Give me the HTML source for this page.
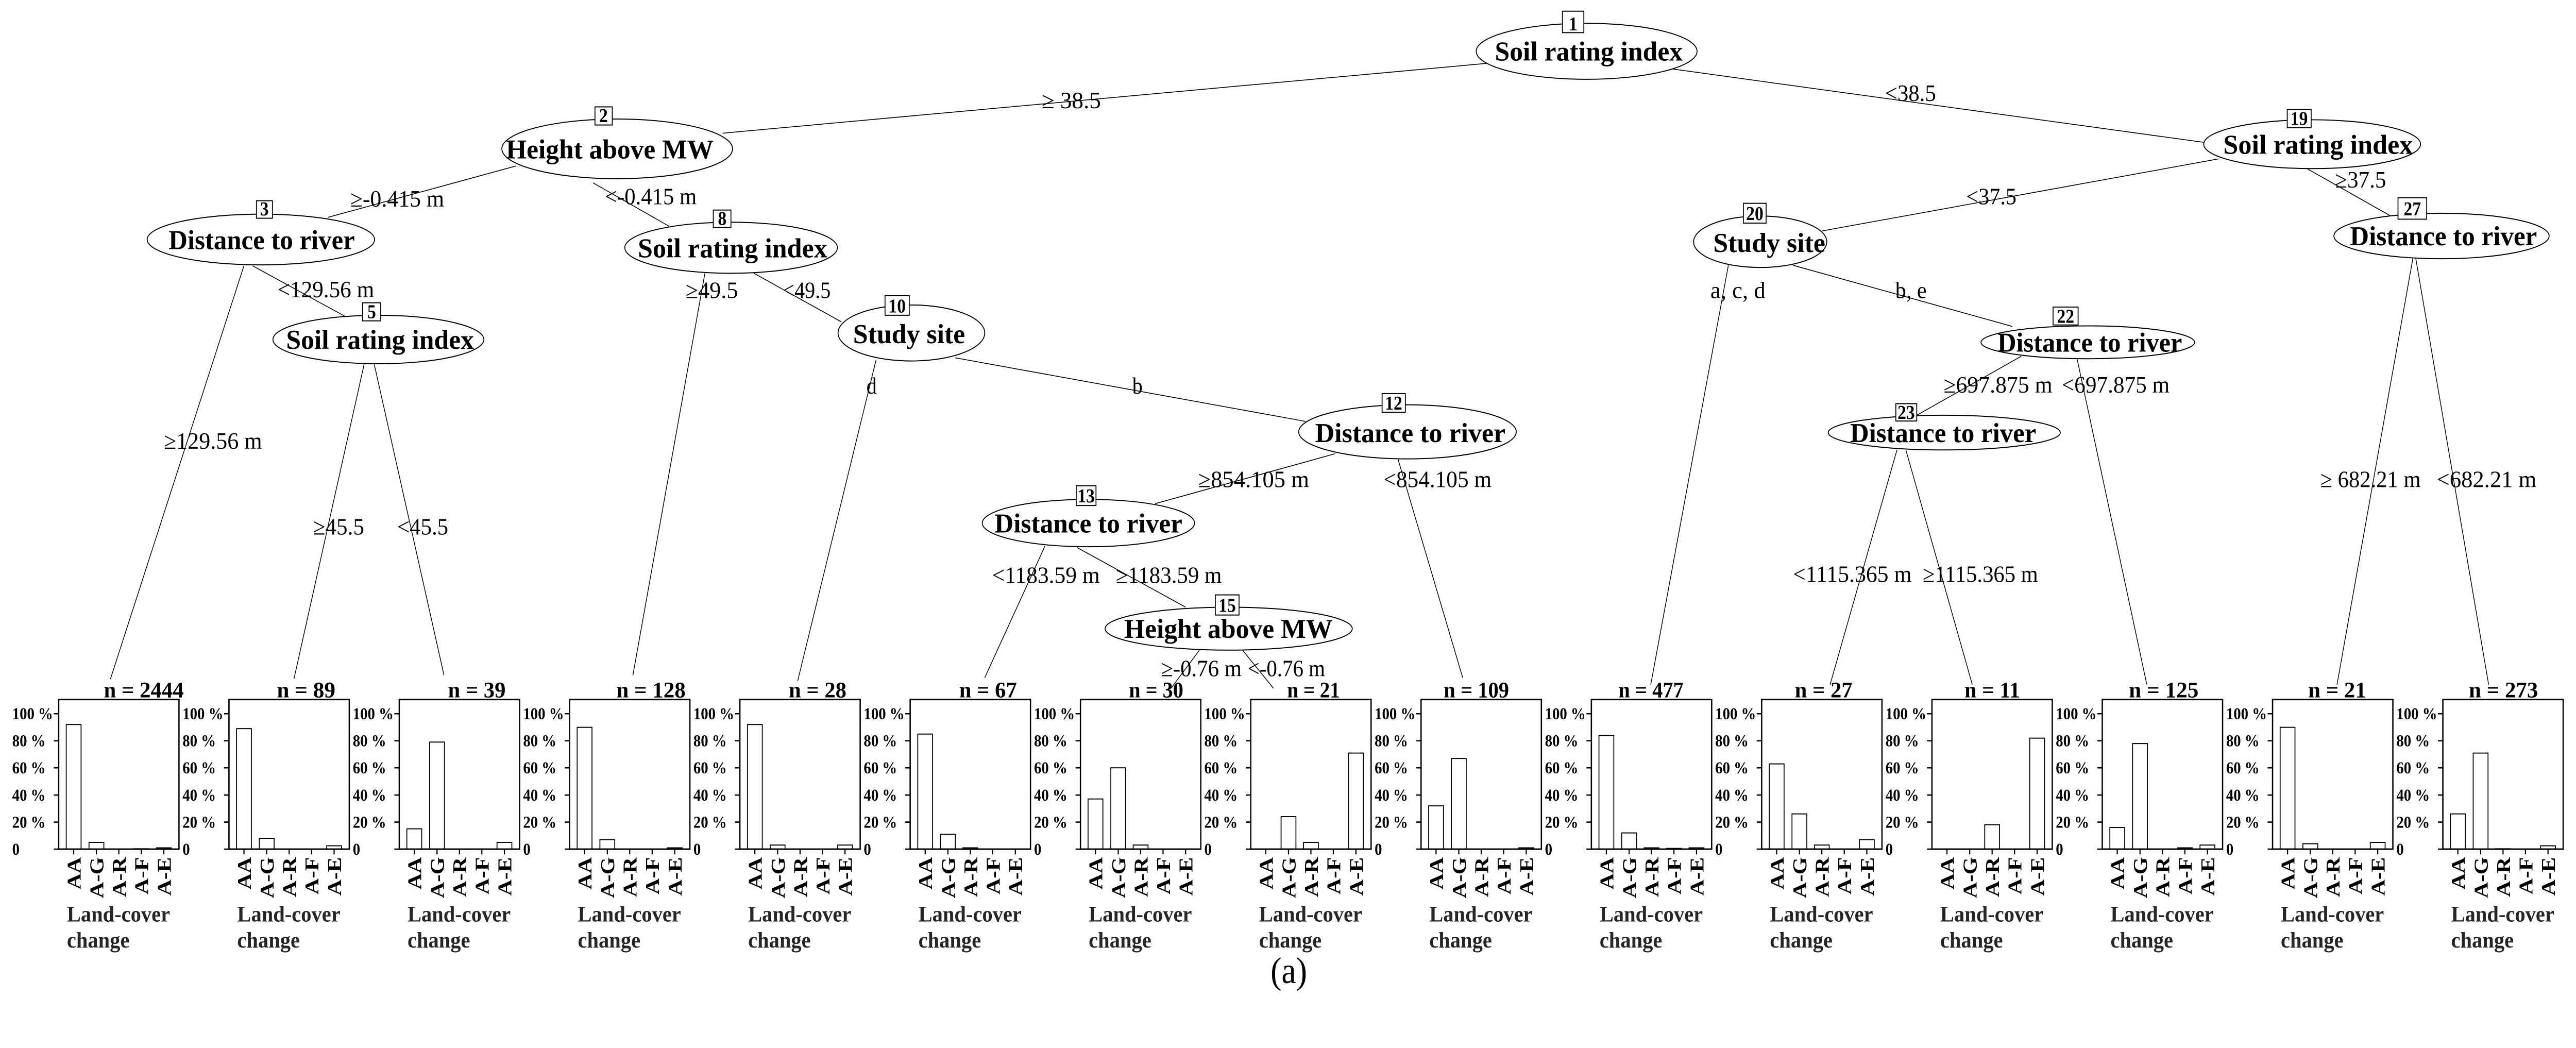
<!DOCTYPE html>
<html><head><meta charset="utf-8"><style>
html,body{margin:0;padding:0;background:#fff;width:100%;height:100%;overflow:hidden}
svg{display:block;width:100vw;height:100vh}
.n{font-family:"Liberation Serif",serif;font-weight:bold;font-size:14.5px}
.b{font-family:"Liberation Serif",serif;font-weight:bold;font-size:10.5px}
.e{font-family:"Liberation Serif",serif;font-size:12.5px}
.k{font-family:"Liberation Serif",serif;font-weight:bold;font-size:9px}
.c{font-family:"Liberation Serif",serif;font-weight:bold;font-size:12px}
.l{font-family:"Liberation Serif",serif;font-weight:bold;font-size:12px;fill:#262626}
.m{font-family:"Liberation Serif",serif;font-weight:bold;font-size:12px}
.a{font-family:"Liberation Serif",serif;font-size:20px}
.f{stroke:#000;fill:none}
.bar{stroke:#000;stroke-width:0.55;fill:#fff}
</style></head><body>
<svg xmlns="http://www.w3.org/2000/svg" viewBox="0 0 1563 561.8" preserveAspectRatio="none">
<rect width="1563" height="562" fill="#fff"/>
<g stroke="#000" stroke-width="0.45" fill="none">
<line x1="901.8" y1="34" x2="438.5" y2="71.4"/>
<line x1="1014.9" y1="37" x2="1337" y2="76.3"/>
<line x1="313" y1="89" x2="199" y2="116.5"/>
<line x1="359.8" y1="98" x2="406" y2="121.3"/>
<line x1="148" y1="142.5" x2="67" y2="364"/>
<line x1="153.3" y1="142.5" x2="209.2" y2="169.5"/>
<line x1="221" y1="195" x2="178.4" y2="363.8"/>
<line x1="227" y1="195" x2="269.4" y2="362"/>
<line x1="427.7" y1="146.5" x2="384" y2="362"/>
<line x1="457.5" y1="146.5" x2="510.4" y2="172.5"/>
<line x1="531.6" y1="192.8" x2="484" y2="365"/>
<line x1="579.6" y1="191.8" x2="792.2" y2="225.9"/>
<line x1="810.2" y1="243.2" x2="700.9" y2="270"/>
<line x1="848.2" y1="246" x2="887.5" y2="363.3"/>
<line x1="634" y1="292.8" x2="597.5" y2="363.3"/>
<line x1="653.5" y1="293.5" x2="719.4" y2="325.5"/>
<line x1="727.8" y1="348.5" x2="710.5" y2="369"/>
<line x1="753.9" y1="348.5" x2="772.7" y2="369"/>
<line x1="1346" y1="85.2" x2="1105.6" y2="123.8"/>
<line x1="1399.8" y1="90.4" x2="1450.6" y2="115.8"/>
<line x1="1048.7" y1="142.2" x2="1001.6" y2="367"/>
<line x1="1087.9" y1="142.2" x2="1221" y2="175"/>
<line x1="1226.4" y1="191" x2="1163" y2="222.6"/>
<line x1="1260.2" y1="192" x2="1302.6" y2="367"/>
<line x1="1151" y1="241.2" x2="1110.4" y2="367"/>
<line x1="1156.4" y1="241.2" x2="1196.7" y2="367"/>
<line x1="1464" y1="138.6" x2="1418" y2="367"/>
<line x1="1465.8" y1="138.6" x2="1510" y2="367"/>
</g>
<g stroke="#000" stroke-width="0.55" fill="#fff">
<ellipse cx="962.7" cy="27.5" rx="67" ry="15"/>
<ellipse cx="374.5" cy="79.8" rx="70" ry="16"/>
<ellipse cx="158.3" cy="128.4" rx="69" ry="13.6"/>
<ellipse cx="229.6" cy="182" rx="64" ry="13"/>
<ellipse cx="443.6" cy="132.8" rx="64.5" ry="13.7"/>
<ellipse cx="553" cy="178.5" rx="44.5" ry="15"/>
<ellipse cx="854" cy="231.5" rx="66" ry="14.5"/>
<ellipse cx="660.4" cy="280.4" rx="64.4" ry="12.7"/>
<ellipse cx="745.5" cy="337" rx="75" ry="11.5"/>
<ellipse cx="1402.9" cy="77.3" rx="65.8" ry="13.1"/>
<ellipse cx="1068" cy="129.6" rx="40.4" ry="13.8"/>
<ellipse cx="1266.8" cy="183.5" rx="64.8" ry="8.8"/>
<ellipse cx="1179.7" cy="231.9" rx="70.4" ry="9.3"/>
<ellipse cx="1481.4" cy="126.5" rx="65.3" ry="12.2"/>
<rect x="948" y="6" width="13" height="11.5"/>
<rect x="361" y="57.3" width="10.5" height="9.7"/>
<rect x="155.6" y="107.6" width="9.7" height="9.4"/>
<rect x="220" y="162.3" width="11" height="9.7"/>
<rect x="432.8" y="112.6" width="10.7" height="9.4"/>
<rect x="537" y="158.5" width="14.7" height="10.5"/>
<rect x="838.6" y="211" width="14.1" height="10"/>
<rect x="653" y="260.4" width="12" height="10.6"/>
<rect x="737.4" y="318.9" width="14.4" height="10.8"/>
<rect x="1387.8" y="58.7" width="14.5" height="9.8"/>
<rect x="1057.8" y="109" width="13.8" height="10.6"/>
<rect x="1245.7" y="164.6" width="15.2" height="9.6"/>
<rect x="1150.3" y="216.4" width="12.7" height="9.3"/>
<rect x="1455" y="106" width="17.4" height="11.5"/>
</g>
<g class="b" text-anchor="middle">
<text x="954.5" y="16.3">1</text><text x="366.2" y="65.5">2</text><text x="160.4" y="115.5">3</text>
<text x="225.5" y="170.5">5</text><text x="438.2" y="120.5">8</text><text x="544.3" y="167.5">10</text>
<text x="845.6" y="219.6">12</text><text x="659" y="269.3">13</text><text x="744.6" y="328">15</text>
<text x="1395" y="67">19</text><text x="1064.7" y="118">20</text><text x="1253.3" y="173">22</text>
<text x="1156.6" y="224.5">23</text><text x="1463.7" y="115.5">27</text>
</g>
<g class="n" text-anchor="middle">
<text x="964" y="32.5" textLength="114" lengthAdjust="spacingAndGlyphs">Soil rating index</text>
<text x="370" y="85" textLength="126" lengthAdjust="spacingAndGlyphs">Height above MW</text>
<text x="158.8" y="133.5" textLength="113" lengthAdjust="spacingAndGlyphs">Distance to river</text>
<text x="230.6" y="187" textLength="114" lengthAdjust="spacingAndGlyphs">Soil rating index</text>
<text x="444.5" y="138" textLength="115" lengthAdjust="spacingAndGlyphs">Soil rating index</text>
<text x="551.6" y="184" textLength="68" lengthAdjust="spacingAndGlyphs">Study site</text>
<text x="855.7" y="237" textLength="115.5" lengthAdjust="spacingAndGlyphs">Distance to river</text>
<text x="660.4" y="285.5" textLength="114" lengthAdjust="spacingAndGlyphs">Distance to river</text>
<text x="745.3" y="342" textLength="126.5" lengthAdjust="spacingAndGlyphs">Height above MW</text>
<text x="1406.5" y="82.5" textLength="115" lengthAdjust="spacingAndGlyphs">Soil rating index</text>
<text x="1073.5" y="135" textLength="68" lengthAdjust="spacingAndGlyphs">Study site</text>
<text x="1268" y="188.5" textLength="112" lengthAdjust="spacingAndGlyphs">Distance to river</text>
<text x="1179" y="237" textLength="113" lengthAdjust="spacingAndGlyphs">Distance to river</text>
<text x="1482.6" y="131.5" textLength="113.5" lengthAdjust="spacingAndGlyphs">Distance to river</text>
</g>
<g class="e">
<text x="632" y="58" textLength="36" lengthAdjust="spacingAndGlyphs">≥ 38.5</text>
<text x="1143.7" y="54.1" textLength="31" lengthAdjust="spacingAndGlyphs">&lt;38.5</text>
<text x="212.5" y="110.7" textLength="57" lengthAdjust="spacingAndGlyphs">≥-0.415 m</text>
<text x="367" y="109.5" textLength="55.7" lengthAdjust="spacingAndGlyphs">&lt;-0.415 m</text>
<text x="99.4" y="240.6" textLength="59.6" lengthAdjust="spacingAndGlyphs">≥129.56 m</text>
<text x="168.4" y="159.4" textLength="58.6" lengthAdjust="spacingAndGlyphs">&lt;129.56 m</text>
<text x="190" y="286.6" textLength="31" lengthAdjust="spacingAndGlyphs">≥45.5</text>
<text x="241" y="286.6" textLength="31" lengthAdjust="spacingAndGlyphs">&lt;45.5</text>
<text x="416" y="159.8" textLength="31.8" lengthAdjust="spacingAndGlyphs">≥49.5</text>
<text x="475" y="159.8" textLength="29" lengthAdjust="spacingAndGlyphs">&lt;49.5</text>
<text x="525.7" y="211">d</text>
<text x="687" y="211">b</text>
<text x="727" y="261.1" textLength="67.3" lengthAdjust="spacingAndGlyphs">≥854.105 m</text>
<text x="839.5" y="261.1" textLength="65.5" lengthAdjust="spacingAndGlyphs">&lt;854.105 m</text>
<text x="602" y="312.5" textLength="65.3" lengthAdjust="spacingAndGlyphs">&lt;1183.59 m</text>
<text x="677" y="312.5" textLength="64.3" lengthAdjust="spacingAndGlyphs">≥1183.59 m</text>
<text x="704.4" y="362.5" textLength="49" lengthAdjust="spacingAndGlyphs">≥-0.76 m</text>
<text x="757" y="362.5" textLength="47" lengthAdjust="spacingAndGlyphs">&lt;-0.76 m</text>
<text x="1193" y="109.5" textLength="30.5" lengthAdjust="spacingAndGlyphs">&lt;37.5</text>
<text x="1416.8" y="100.6" textLength="31" lengthAdjust="spacingAndGlyphs">≥37.5</text>
<text x="1037.8" y="159.8" textLength="33.4" lengthAdjust="spacingAndGlyphs">a, c, d</text>
<text x="1150" y="159.8" textLength="19" lengthAdjust="spacingAndGlyphs">b, e</text>
<text x="1179.3" y="210.5" textLength="66" lengthAdjust="spacingAndGlyphs">≥697.875 m</text>
<text x="1251" y="210.5" textLength="65.4" lengthAdjust="spacingAndGlyphs">&lt;697.875 m</text>
<text x="1087.9" y="312" textLength="72" lengthAdjust="spacingAndGlyphs">&lt;1115.365 m</text>
<text x="1166.6" y="312" textLength="70" lengthAdjust="spacingAndGlyphs">≥1115.365 m</text>
<text x="1407.8" y="261.2" textLength="61" lengthAdjust="spacingAndGlyphs">≥ 682.21 m</text>
<text x="1478.5" y="261.2" textLength="60.5" lengthAdjust="spacingAndGlyphs">&lt;682.21 m</text>
</g>
<g class="m">
<text x="63" y="373.8" textLength="48.5" lengthAdjust="spacingAndGlyphs">n = 2444</text>
<text x="168" y="373.8" textLength="35.5" lengthAdjust="spacingAndGlyphs">n = 89</text>
<text x="271.8" y="373.8" textLength="35" lengthAdjust="spacingAndGlyphs">n = 39</text>
<text x="374" y="373.8" textLength="42" lengthAdjust="spacingAndGlyphs">n = 128</text>
<text x="478.6" y="373.8" textLength="35" lengthAdjust="spacingAndGlyphs">n = 28</text>
<text x="582" y="373.8" textLength="35" lengthAdjust="spacingAndGlyphs">n = 67</text>
<text x="685" y="373.8" textLength="33" lengthAdjust="spacingAndGlyphs">n = 30</text>
<text x="781" y="373.8" textLength="32" lengthAdjust="spacingAndGlyphs">n = 21</text>
<text x="876" y="373.8" textLength="39.6" lengthAdjust="spacingAndGlyphs">n = 109</text>
<text x="982" y="373.8" textLength="39.5" lengthAdjust="spacingAndGlyphs">n = 477</text>
<text x="1089" y="373.8" textLength="35" lengthAdjust="spacingAndGlyphs">n = 27</text>
<text x="1192" y="373.8" textLength="33.7" lengthAdjust="spacingAndGlyphs">n = 11</text>
<text x="1291.7" y="373.8" textLength="42.3" lengthAdjust="spacingAndGlyphs">n = 125</text>
<text x="1400.5" y="373.8" textLength="35.2" lengthAdjust="spacingAndGlyphs">n = 21</text>
<text x="1498" y="373.8" textLength="42" lengthAdjust="spacingAndGlyphs">n = 273</text>
</g>
<text class="a" x="782" y="527" text-anchor="middle">(a)</text>

<!-- panel 1 -->
<g transform="translate(35.6,0)">
<rect class="bar" x="4.6" y="388.4" width="9" height="66.8"/><rect class="bar" x="18.4" y="451.6" width="9" height="3.6"/><rect class="bar" x="45.6" y="455" width="9" height="0.2"/><rect class="bar" x="59.3" y="454.5" width="9" height="0.7"/>
<rect class="f" x="0" y="375" width="73" height="80.2" stroke-width="0.8"/><path class="f" stroke-width="0.7" d="M-3 455.2H73M-3 382.6H0M-3 397.1H0M-3 411.6H0M-3 426.2H0M-3 440.7H0M9.1 455.2V458M22.9 455.2V458M36.5 455.2V458M50.1 455.2V458M63.8 455.2V458"/>
<g class="k"><text x="-28.2" y="385.6">100 %</text><text x="-28.2" y="400.1">80 %</text><text x="-28.2" y="414.6">60 %</text><text x="-28.2" y="429.2">40 %</text><text x="-28.2" y="443.7">20 %</text><text x="-28.2" y="458.2">0</text></g>
<g class="c" text-anchor="end"><text transform="translate(13.3,459.5) rotate(-90)">AA</text><text transform="translate(27.1,459.5) rotate(-90)">A-G</text><text transform="translate(40.7,459.5) rotate(-90)">A-R</text><text transform="translate(54.3,459.5) rotate(-90)">A-F</text><text transform="translate(68,459.5) rotate(-90)">A-E</text></g>
<text class="l" x="5" y="494" textLength="62.6" lengthAdjust="spacingAndGlyphs">Land-cover</text><text class="l" x="5" y="508" textLength="38" lengthAdjust="spacingAndGlyphs">change</text>
</g>
<!-- panel 2 -->
<g transform="translate(138.93,0)">
<rect class="bar" x="4.6" y="390.6" width="9" height="64.6"/><rect class="bar" x="18.4" y="449.4" width="9" height="5.8"/><rect class="bar" x="59.3" y="453.4" width="9" height="1.8"/>
<rect class="f" x="0" y="375" width="73" height="80.2" stroke-width="0.8"/><path class="f" stroke-width="0.7" d="M-3 455.2H73M-3 382.6H0M-3 397.1H0M-3 411.6H0M-3 426.2H0M-3 440.7H0M9.1 455.2V458M22.9 455.2V458M36.5 455.2V458M50.1 455.2V458M63.8 455.2V458"/>
<g class="k"><text x="-28.2" y="385.6">100 %</text><text x="-28.2" y="400.1">80 %</text><text x="-28.2" y="414.6">60 %</text><text x="-28.2" y="429.2">40 %</text><text x="-28.2" y="443.7">20 %</text><text x="-28.2" y="458.2">0</text></g>
<g class="c" text-anchor="end"><text transform="translate(13.3,459.5) rotate(-90)">AA</text><text transform="translate(27.1,459.5) rotate(-90)">A-G</text><text transform="translate(40.7,459.5) rotate(-90)">A-R</text><text transform="translate(54.3,459.5) rotate(-90)">A-F</text><text transform="translate(68,459.5) rotate(-90)">A-E</text></g>
<text class="l" x="5" y="494" textLength="62.6" lengthAdjust="spacingAndGlyphs">Land-cover</text><text class="l" x="5" y="508" textLength="38" lengthAdjust="spacingAndGlyphs">change</text>
</g>
<!-- panel 3 -->
<g transform="translate(242.26,0)">
<rect class="bar" x="4.6" y="444.3" width="9" height="10.9"/><rect class="bar" x="18.4" y="397.8" width="9" height="57.4"/><rect class="bar" x="59.3" y="451.6" width="9" height="3.6"/>
<rect class="f" x="0" y="375" width="73" height="80.2" stroke-width="0.8"/><path class="f" stroke-width="0.7" d="M-3 455.2H73M-3 382.6H0M-3 397.1H0M-3 411.6H0M-3 426.2H0M-3 440.7H0M9.1 455.2V458M22.9 455.2V458M36.5 455.2V458M50.1 455.2V458M63.8 455.2V458"/>
<g class="k"><text x="-28.2" y="385.6">100 %</text><text x="-28.2" y="400.1">80 %</text><text x="-28.2" y="414.6">60 %</text><text x="-28.2" y="429.2">40 %</text><text x="-28.2" y="443.7">20 %</text><text x="-28.2" y="458.2">0</text></g>
<g class="c" text-anchor="end"><text transform="translate(13.3,459.5) rotate(-90)">AA</text><text transform="translate(27.1,459.5) rotate(-90)">A-G</text><text transform="translate(40.7,459.5) rotate(-90)">A-R</text><text transform="translate(54.3,459.5) rotate(-90)">A-F</text><text transform="translate(68,459.5) rotate(-90)">A-E</text></g>
<text class="l" x="5" y="494" textLength="62.6" lengthAdjust="spacingAndGlyphs">Land-cover</text><text class="l" x="5" y="508" textLength="38" lengthAdjust="spacingAndGlyphs">change</text>
</g>
<!-- panel 4 -->
<g transform="translate(345.59,0)">
<rect class="bar" x="4.6" y="389.9" width="9" height="65.3"/><rect class="bar" x="18.4" y="450.1" width="9" height="5.1"/><rect class="bar" x="59.3" y="454.5" width="9" height="0.7"/>
<rect class="f" x="0" y="375" width="73" height="80.2" stroke-width="0.8"/><path class="f" stroke-width="0.7" d="M-3 455.2H73M-3 382.6H0M-3 397.1H0M-3 411.6H0M-3 426.2H0M-3 440.7H0M9.1 455.2V458M22.9 455.2V458M36.5 455.2V458M50.1 455.2V458M63.8 455.2V458"/>
<g class="k"><text x="-28.2" y="385.6">100 %</text><text x="-28.2" y="400.1">80 %</text><text x="-28.2" y="414.6">60 %</text><text x="-28.2" y="429.2">40 %</text><text x="-28.2" y="443.7">20 %</text><text x="-28.2" y="458.2">0</text></g>
<g class="c" text-anchor="end"><text transform="translate(13.3,459.5) rotate(-90)">AA</text><text transform="translate(27.1,459.5) rotate(-90)">A-G</text><text transform="translate(40.7,459.5) rotate(-90)">A-R</text><text transform="translate(54.3,459.5) rotate(-90)">A-F</text><text transform="translate(68,459.5) rotate(-90)">A-E</text></g>
<text class="l" x="5" y="494" textLength="62.6" lengthAdjust="spacingAndGlyphs">Land-cover</text><text class="l" x="5" y="508" textLength="38" lengthAdjust="spacingAndGlyphs">change</text>
</g>
<!-- panel 5 -->
<g transform="translate(448.92,0)">
<rect class="bar" x="4.6" y="388.4" width="9" height="66.8"/><rect class="bar" x="18.4" y="453" width="9" height="2.2"/><rect class="bar" x="59.3" y="453" width="9" height="2.2"/>
<rect class="f" x="0" y="375" width="73" height="80.2" stroke-width="0.8"/><path class="f" stroke-width="0.7" d="M-3 455.2H73M-3 382.6H0M-3 397.1H0M-3 411.6H0M-3 426.2H0M-3 440.7H0M9.1 455.2V458M22.9 455.2V458M36.5 455.2V458M50.1 455.2V458M63.8 455.2V458"/>
<g class="k"><text x="-28.2" y="385.6">100 %</text><text x="-28.2" y="400.1">80 %</text><text x="-28.2" y="414.6">60 %</text><text x="-28.2" y="429.2">40 %</text><text x="-28.2" y="443.7">20 %</text><text x="-28.2" y="458.2">0</text></g>
<g class="c" text-anchor="end"><text transform="translate(13.3,459.5) rotate(-90)">AA</text><text transform="translate(27.1,459.5) rotate(-90)">A-G</text><text transform="translate(40.7,459.5) rotate(-90)">A-R</text><text transform="translate(54.3,459.5) rotate(-90)">A-F</text><text transform="translate(68,459.5) rotate(-90)">A-E</text></g>
<text class="l" x="5" y="494" textLength="62.6" lengthAdjust="spacingAndGlyphs">Land-cover</text><text class="l" x="5" y="508" textLength="38" lengthAdjust="spacingAndGlyphs">change</text>
</g>
<!-- panel 6 -->
<g transform="translate(552.25,0)">
<rect class="bar" x="4.6" y="393.5" width="9" height="61.7"/><rect class="bar" x="18.4" y="447.2" width="9" height="8"/><rect class="bar" x="32" y="454.5" width="9" height="0.7"/>
<rect class="f" x="0" y="375" width="73" height="80.2" stroke-width="0.8"/><path class="f" stroke-width="0.7" d="M-3 455.2H73M-3 382.6H0M-3 397.1H0M-3 411.6H0M-3 426.2H0M-3 440.7H0M9.1 455.2V458M22.9 455.2V458M36.5 455.2V458M50.1 455.2V458M63.8 455.2V458"/>
<g class="k"><text x="-28.2" y="385.6">100 %</text><text x="-28.2" y="400.1">80 %</text><text x="-28.2" y="414.6">60 %</text><text x="-28.2" y="429.2">40 %</text><text x="-28.2" y="443.7">20 %</text><text x="-28.2" y="458.2">0</text></g>
<g class="c" text-anchor="end"><text transform="translate(13.3,459.5) rotate(-90)">AA</text><text transform="translate(27.1,459.5) rotate(-90)">A-G</text><text transform="translate(40.7,459.5) rotate(-90)">A-R</text><text transform="translate(54.3,459.5) rotate(-90)">A-F</text><text transform="translate(68,459.5) rotate(-90)">A-E</text></g>
<text class="l" x="5" y="494" textLength="62.6" lengthAdjust="spacingAndGlyphs">Land-cover</text><text class="l" x="5" y="508" textLength="38" lengthAdjust="spacingAndGlyphs">change</text>
</g>
<!-- panel 7 -->
<g transform="translate(655.58,0)">
<rect class="bar" x="4.6" y="428.3" width="9" height="26.9"/><rect class="bar" x="18.4" y="411.6" width="9" height="43.6"/><rect class="bar" x="32" y="453" width="9" height="2.2"/>
<rect class="f" x="0" y="375" width="73" height="80.2" stroke-width="0.8"/><path class="f" stroke-width="0.7" d="M-3 455.2H73M-3 382.6H0M-3 397.1H0M-3 411.6H0M-3 426.2H0M-3 440.7H0M9.1 455.2V458M22.9 455.2V458M36.5 455.2V458M50.1 455.2V458M63.8 455.2V458"/>
<g class="k"><text x="-28.2" y="385.6">100 %</text><text x="-28.2" y="400.1">80 %</text><text x="-28.2" y="414.6">60 %</text><text x="-28.2" y="429.2">40 %</text><text x="-28.2" y="443.7">20 %</text><text x="-28.2" y="458.2">0</text></g>
<g class="c" text-anchor="end"><text transform="translate(13.3,459.5) rotate(-90)">AA</text><text transform="translate(27.1,459.5) rotate(-90)">A-G</text><text transform="translate(40.7,459.5) rotate(-90)">A-R</text><text transform="translate(54.3,459.5) rotate(-90)">A-F</text><text transform="translate(68,459.5) rotate(-90)">A-E</text></g>
<text class="l" x="5" y="494" textLength="62.6" lengthAdjust="spacingAndGlyphs">Land-cover</text><text class="l" x="5" y="508" textLength="38" lengthAdjust="spacingAndGlyphs">change</text>
</g>
<!-- panel 8 -->
<g transform="translate(758.91,0)">
<rect class="bar" x="18.4" y="437.8" width="9" height="17.4"/><rect class="bar" x="32" y="451.6" width="9" height="3.6"/><rect class="bar" x="59.3" y="403.7" width="9" height="51.5"/>
<rect class="f" x="0" y="375" width="73" height="80.2" stroke-width="0.8"/><path class="f" stroke-width="0.7" d="M-3 455.2H73M-3 382.6H0M-3 397.1H0M-3 411.6H0M-3 426.2H0M-3 440.7H0M9.1 455.2V458M22.9 455.2V458M36.5 455.2V458M50.1 455.2V458M63.8 455.2V458"/>
<g class="k"><text x="-28.2" y="385.6">100 %</text><text x="-28.2" y="400.1">80 %</text><text x="-28.2" y="414.6">60 %</text><text x="-28.2" y="429.2">40 %</text><text x="-28.2" y="443.7">20 %</text><text x="-28.2" y="458.2">0</text></g>
<g class="c" text-anchor="end"><text transform="translate(13.3,459.5) rotate(-90)">AA</text><text transform="translate(27.1,459.5) rotate(-90)">A-G</text><text transform="translate(40.7,459.5) rotate(-90)">A-R</text><text transform="translate(54.3,459.5) rotate(-90)">A-F</text><text transform="translate(68,459.5) rotate(-90)">A-E</text></g>
<text class="l" x="5" y="494" textLength="62.6" lengthAdjust="spacingAndGlyphs">Land-cover</text><text class="l" x="5" y="508" textLength="38" lengthAdjust="spacingAndGlyphs">change</text>
</g>
<!-- panel 9 -->
<g transform="translate(862.24,0)">
<rect class="bar" x="4.6" y="432" width="9" height="23.2"/><rect class="bar" x="18.4" y="406.6" width="9" height="48.6"/><rect class="bar" x="59.3" y="454.5" width="9" height="0.7"/>
<rect class="f" x="0" y="375" width="73" height="80.2" stroke-width="0.8"/><path class="f" stroke-width="0.7" d="M-3 455.2H73M-3 382.6H0M-3 397.1H0M-3 411.6H0M-3 426.2H0M-3 440.7H0M9.1 455.2V458M22.9 455.2V458M36.5 455.2V458M50.1 455.2V458M63.8 455.2V458"/>
<g class="k"><text x="-28.2" y="385.6">100 %</text><text x="-28.2" y="400.1">80 %</text><text x="-28.2" y="414.6">60 %</text><text x="-28.2" y="429.2">40 %</text><text x="-28.2" y="443.7">20 %</text><text x="-28.2" y="458.2">0</text></g>
<g class="c" text-anchor="end"><text transform="translate(13.3,459.5) rotate(-90)">AA</text><text transform="translate(27.1,459.5) rotate(-90)">A-G</text><text transform="translate(40.7,459.5) rotate(-90)">A-R</text><text transform="translate(54.3,459.5) rotate(-90)">A-F</text><text transform="translate(68,459.5) rotate(-90)">A-E</text></g>
<text class="l" x="5" y="494" textLength="62.6" lengthAdjust="spacingAndGlyphs">Land-cover</text><text class="l" x="5" y="508" textLength="38" lengthAdjust="spacingAndGlyphs">change</text>
</g>
<!-- panel 10 -->
<g transform="translate(965.57,0)">
<rect class="bar" x="4.6" y="394.2" width="9" height="61"/><rect class="bar" x="18.4" y="446.5" width="9" height="8.7"/><rect class="bar" x="32" y="454.5" width="9" height="0.7"/><rect class="bar" x="45.6" y="454.8" width="9" height="0.4"/><rect class="bar" x="59.3" y="454.5" width="9" height="0.7"/>
<rect class="f" x="0" y="375" width="73" height="80.2" stroke-width="0.8"/><path class="f" stroke-width="0.7" d="M-3 455.2H73M-3 382.6H0M-3 397.1H0M-3 411.6H0M-3 426.2H0M-3 440.7H0M9.1 455.2V458M22.9 455.2V458M36.5 455.2V458M50.1 455.2V458M63.8 455.2V458"/>
<g class="k"><text x="-28.2" y="385.6">100 %</text><text x="-28.2" y="400.1">80 %</text><text x="-28.2" y="414.6">60 %</text><text x="-28.2" y="429.2">40 %</text><text x="-28.2" y="443.7">20 %</text><text x="-28.2" y="458.2">0</text></g>
<g class="c" text-anchor="end"><text transform="translate(13.3,459.5) rotate(-90)">AA</text><text transform="translate(27.1,459.5) rotate(-90)">A-G</text><text transform="translate(40.7,459.5) rotate(-90)">A-R</text><text transform="translate(54.3,459.5) rotate(-90)">A-F</text><text transform="translate(68,459.5) rotate(-90)">A-E</text></g>
<text class="l" x="5" y="494" textLength="62.6" lengthAdjust="spacingAndGlyphs">Land-cover</text><text class="l" x="5" y="508" textLength="38" lengthAdjust="spacingAndGlyphs">change</text>
</g>
<!-- panel 11 -->
<g transform="translate(1068.9,0)">
<rect class="bar" x="4.6" y="409.5" width="9" height="45.7"/><rect class="bar" x="18.4" y="436.3" width="9" height="18.9"/><rect class="bar" x="32" y="453" width="9" height="2.2"/><rect class="bar" x="59.3" y="450.1" width="9" height="5.1"/>
<rect class="f" x="0" y="375" width="73" height="80.2" stroke-width="0.8"/><path class="f" stroke-width="0.7" d="M-3 455.2H73M-3 382.6H0M-3 397.1H0M-3 411.6H0M-3 426.2H0M-3 440.7H0M9.1 455.2V458M22.9 455.2V458M36.5 455.2V458M50.1 455.2V458M63.8 455.2V458"/>
<g class="k"><text x="-28.2" y="385.6">100 %</text><text x="-28.2" y="400.1">80 %</text><text x="-28.2" y="414.6">60 %</text><text x="-28.2" y="429.2">40 %</text><text x="-28.2" y="443.7">20 %</text><text x="-28.2" y="458.2">0</text></g>
<g class="c" text-anchor="end"><text transform="translate(13.3,459.5) rotate(-90)">AA</text><text transform="translate(27.1,459.5) rotate(-90)">A-G</text><text transform="translate(40.7,459.5) rotate(-90)">A-R</text><text transform="translate(54.3,459.5) rotate(-90)">A-F</text><text transform="translate(68,459.5) rotate(-90)">A-E</text></g>
<text class="l" x="5" y="494" textLength="62.6" lengthAdjust="spacingAndGlyphs">Land-cover</text><text class="l" x="5" y="508" textLength="38" lengthAdjust="spacingAndGlyphs">change</text>
</g>
<!-- panel 12 -->
<g transform="translate(1172.23,0)">
<rect class="bar" x="32" y="442.1" width="9" height="13.1"/><rect class="bar" x="59.3" y="395.7" width="9" height="59.5"/>
<rect class="f" x="0" y="375" width="73" height="80.2" stroke-width="0.8"/><path class="f" stroke-width="0.7" d="M-3 455.2H73M-3 382.6H0M-3 397.1H0M-3 411.6H0M-3 426.2H0M-3 440.7H0M9.1 455.2V458M22.9 455.2V458M36.5 455.2V458M50.1 455.2V458M63.8 455.2V458"/>
<g class="k"><text x="-28.2" y="385.6">100 %</text><text x="-28.2" y="400.1">80 %</text><text x="-28.2" y="414.6">60 %</text><text x="-28.2" y="429.2">40 %</text><text x="-28.2" y="443.7">20 %</text><text x="-28.2" y="458.2">0</text></g>
<g class="c" text-anchor="end"><text transform="translate(13.3,459.5) rotate(-90)">AA</text><text transform="translate(27.1,459.5) rotate(-90)">A-G</text><text transform="translate(40.7,459.5) rotate(-90)">A-R</text><text transform="translate(54.3,459.5) rotate(-90)">A-F</text><text transform="translate(68,459.5) rotate(-90)">A-E</text></g>
<text class="l" x="5" y="494" textLength="62.6" lengthAdjust="spacingAndGlyphs">Land-cover</text><text class="l" x="5" y="508" textLength="38" lengthAdjust="spacingAndGlyphs">change</text>
</g>
<!-- panel 13 -->
<g transform="translate(1275.56,0)">
<rect class="bar" x="4.6" y="443.6" width="9" height="11.6"/><rect class="bar" x="18.4" y="398.6" width="9" height="56.6"/><rect class="bar" x="45.6" y="454.5" width="9" height="0.7"/><rect class="bar" x="59.3" y="453" width="9" height="2.2"/>
<rect class="f" x="0" y="375" width="73" height="80.2" stroke-width="0.8"/><path class="f" stroke-width="0.7" d="M-3 455.2H73M-3 382.6H0M-3 397.1H0M-3 411.6H0M-3 426.2H0M-3 440.7H0M9.1 455.2V458M22.9 455.2V458M36.5 455.2V458M50.1 455.2V458M63.8 455.2V458"/>
<g class="k"><text x="-28.2" y="385.6">100 %</text><text x="-28.2" y="400.1">80 %</text><text x="-28.2" y="414.6">60 %</text><text x="-28.2" y="429.2">40 %</text><text x="-28.2" y="443.7">20 %</text><text x="-28.2" y="458.2">0</text></g>
<g class="c" text-anchor="end"><text transform="translate(13.3,459.5) rotate(-90)">AA</text><text transform="translate(27.1,459.5) rotate(-90)">A-G</text><text transform="translate(40.7,459.5) rotate(-90)">A-R</text><text transform="translate(54.3,459.5) rotate(-90)">A-F</text><text transform="translate(68,459.5) rotate(-90)">A-E</text></g>
<text class="l" x="5" y="494" textLength="62.6" lengthAdjust="spacingAndGlyphs">Land-cover</text><text class="l" x="5" y="508" textLength="38" lengthAdjust="spacingAndGlyphs">change</text>
</g>
<!-- panel 14 -->
<g transform="translate(1378.89,0)">
<rect class="bar" x="4.6" y="389.9" width="9" height="65.3"/><rect class="bar" x="18.4" y="452.3" width="9" height="2.9"/><rect class="bar" x="59.3" y="451.6" width="9" height="3.6"/>
<rect class="f" x="0" y="375" width="73" height="80.2" stroke-width="0.8"/><path class="f" stroke-width="0.7" d="M-3 455.2H73M-3 382.6H0M-3 397.1H0M-3 411.6H0M-3 426.2H0M-3 440.7H0M9.1 455.2V458M22.9 455.2V458M36.5 455.2V458M50.1 455.2V458M63.8 455.2V458"/>
<g class="k"><text x="-28.2" y="385.6">100 %</text><text x="-28.2" y="400.1">80 %</text><text x="-28.2" y="414.6">60 %</text><text x="-28.2" y="429.2">40 %</text><text x="-28.2" y="443.7">20 %</text><text x="-28.2" y="458.2">0</text></g>
<g class="c" text-anchor="end"><text transform="translate(13.3,459.5) rotate(-90)">AA</text><text transform="translate(27.1,459.5) rotate(-90)">A-G</text><text transform="translate(40.7,459.5) rotate(-90)">A-R</text><text transform="translate(54.3,459.5) rotate(-90)">A-F</text><text transform="translate(68,459.5) rotate(-90)">A-E</text></g>
<text class="l" x="5" y="494" textLength="62.6" lengthAdjust="spacingAndGlyphs">Land-cover</text><text class="l" x="5" y="508" textLength="38" lengthAdjust="spacingAndGlyphs">change</text>
</g>
<!-- panel 15 -->
<g transform="translate(1482.22,0)">
<rect class="bar" x="4.6" y="436.3" width="9" height="18.9"/><rect class="bar" x="18.4" y="403.7" width="9" height="51.5"/><rect class="bar" x="32" y="455" width="9" height="0.2"/><rect class="bar" x="59.3" y="453.4" width="9" height="1.8"/>
<rect class="f" x="0" y="375" width="73" height="80.2" stroke-width="0.8"/><path class="f" stroke-width="0.7" d="M-3 455.2H73M-3 382.6H0M-3 397.1H0M-3 411.6H0M-3 426.2H0M-3 440.7H0M9.1 455.2V458M22.9 455.2V458M36.5 455.2V458M50.1 455.2V458M63.8 455.2V458"/>
<g class="k"><text x="-28.2" y="385.6">100 %</text><text x="-28.2" y="400.1">80 %</text><text x="-28.2" y="414.6">60 %</text><text x="-28.2" y="429.2">40 %</text><text x="-28.2" y="443.7">20 %</text><text x="-28.2" y="458.2">0</text></g>
<g class="c" text-anchor="end"><text transform="translate(13.3,459.5) rotate(-90)">AA</text><text transform="translate(27.1,459.5) rotate(-90)">A-G</text><text transform="translate(40.7,459.5) rotate(-90)">A-R</text><text transform="translate(54.3,459.5) rotate(-90)">A-F</text><text transform="translate(68,459.5) rotate(-90)">A-E</text></g>
<text class="l" x="5" y="494" textLength="62.6" lengthAdjust="spacingAndGlyphs">Land-cover</text><text class="l" x="5" y="508" textLength="38" lengthAdjust="spacingAndGlyphs">change</text>
</g>
</svg>
</body></html>
